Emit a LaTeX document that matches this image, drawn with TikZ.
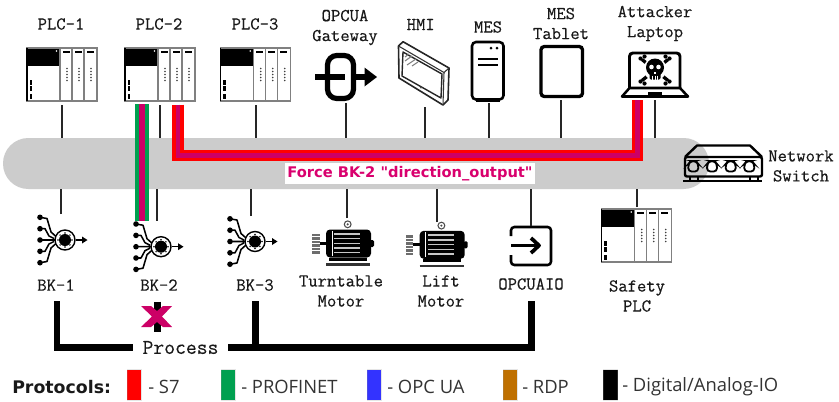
\documentclass[tikz,border=0pt]{standalone}
\usepackage{fontspec}
\newfontfamily\uifont{Open Sans}
\newfontfamily\headfont{DejaVu Sans}
\newfontfamily\courf[FakeBold=0.35]{Latin Modern Mono}
\definecolor{magentax}{HTML}{CC0066}
\definecolor{forcec}{HTML}{D9006E}
\definecolor{greenx}{HTML}{00A050}
\definecolor{bandc}{HTML}{CCCCCC}
\definecolor{redx}{HTML}{FF0000}
\definecolor{bluex}{HTML}{3333FF}
\definecolor{rdpx}{HTML}{BF7000}
\definecolor{legtext}{HTML}{333333}
\definecolor{greyx}{HTML}{808080}
\tikzset{
 lbl/.style={font=\courf\fontsize{13.6}{15}\selectfont,inner sep=0pt,align=center,text=black!90},
 leg/.style={font=\uifont\fontsize{13.8}{15}\selectfont,inner sep=0pt,anchor=west,text=legtext},
 link/.style={draw=black!85,line width=1.5pt},
 procline/.style={draw=black,line width=5.2pt},
 swatch/.style={inner sep=0pt,minimum width=10.6pt,minimum height=23pt,draw=white!60!black,draw opacity=.25,line width=.4pt},
 pics/plcicon/.style={code={
  \fill[white] (27,48) rectangle (97,101);
  \fill[black] (27,48) rectangle (60,66);
  \fill[white] (56.5,51) circle (.9);
  \draw[greyx,line width=.9pt] (27,48) rectangle (97,101);
  \draw[greyx,line width=.9pt] (60,48)--(60,101) (72,48)--(72,101) (84,48)--(84,101);
  \draw[black,line width=.9pt] (27,48)--(27,101);
  \foreach \x in {62.5,74.5,86.5}{
   \fill[black] (\x,50.5) rectangle +(7,2.7);
   \foreach \y in {68.5,71.5,74.5,77.5,80.5}{\fill[black!75] (\x+4.5,\y) circle (.9);}
  }
  \foreach \y in {80,86,94}{\fill[black] (29.5,\y) rectangle +(2.3,5);}
 }},
 pics/bkicon/.style={code={
  \foreach \y in {217.3,228.7,240,251.3,262.7}{\fill[black] (40,\y) circle (2.8);}
  \draw[black,line width=1.15pt,line join=round]
   (40,217.3)--(47,218.5)--(51,232)--(56,236.5)
   (40,228.7)--(45,228.7)--(49,236)--(54,238.5)
   (40,240)--(55,240)
   (40,251.3)--(45,251.3)--(49,244)--(54,241.5)
   (40,262.7)--(47,261.5)--(51,248)--(56,243.5);
  \draw[black,line width=1.05pt] (65,240) circle (10);
  \fill[black] (65,240) circle (6);
  \foreach \a in {0,45,...,315}{\fill[black] (65,240)++(\a:7) circle (.8);}
  \draw[black,line width=1.1pt] (76,240)--(83,240);
  \fill[black] (87.5,240)--(82,236.5)--(82,243.5)--cycle;
 }},
 pics/motoricon/.style={code={
  \draw[greyx!60!black,line width=.8pt] (347.7,224.3) circle (3.4);
  \fill[greyx!60!black] (347.7,224.3) circle (1.2);
  \fill[greyx!85!black] (312.3,233.5) rectangle (319.5,253.5);
  \foreach \y in {236.5,240,243.5,247,250.5}{\draw[white,line width=.4pt] (312.3,\y)--(319.5,\y);}
  \fill[black] (319.5,241.5) rectangle (326,245);
  \fill[black,rounded corners=3pt] (326,229.5) rectangle (371,257.5);
  \fill[black,rounded corners=1pt] (370,240) rectangle (374,247);
  \fill[white] (331.5,231) rectangle (332.3,256);
  \foreach \y in {231.5,236.2,240.9,245.6,250.3}{\fill[white!78!black] (334,\y+1.6) rectangle (360,\y+3.1);}
  \fill[black] (329,258) rectangle (367,261);
  \draw[black!80,line width=1.6pt] (326,264.5)--(370,264.5);
 }},
}
\begin{document}
\begin{tikzpicture}[x=.75pt,y=-.75pt]
\useasboundingbox (0,0) rectangle (839,401);
\fill[white] (0,0) rectangle (839,401);
% bus
\node[name=bus,fill=bandc,rounded corners=19pt,inner sep=0pt,minimum width=529.5pt,minimum height=38.25pt] at (356,163.5) {};
% PLCs
\pic at (0,0) {plcicon};
\pic at (98,0) {plcicon};
\pic at (193.7,0) {plcicon};
\pic at (574.7,161) {plcicon};
% OPCUA gateway
\draw[black,line width=3.9pt,rounded corners=7pt] (327.5,55.5) rectangle (353.5,98.5);
\draw[black,line width=5pt] (315,77)--(345,77) (356,77)--(366,77);
\fill[black] (377,77)--(364.5,67.5)--(364.5,86.5)--cycle;
% HMI
\begin{scope}[line join=round,black]
\draw[black!85,line width=1.2pt] (403,41.7)--(449,68)--(448,100)--(443,105)--(399,78)--(398.5,46)--cycle;
\draw[black!80,line width=.8pt] (398.5,46)--(444,72.5)--(443,105) (444,72.5)--(449,68);
\draw[black!85,line width=1.05pt] (403,52)--(442,74)--(441,98)--(402,76)--cycle;
\draw[greyx,line width=.8pt] (405,57)--(409,54) (405,61)--(412,56) (407,65)--(416,59) (412,66)--(418,62);
\fill[black!70] (421,87.5) circle (1.2);
\end{scope}
% MES
\draw[black,line width=1.9pt,rounded corners=3pt] (472,42)rectangle(503.5,99.5);
\fill[black] (491,48.2) circle (1.5) (497,48.2) circle (1.5);
\draw[black,line width=1.4pt] (478,58.7)--(498,58.7) (478,65)--(498,65);
\draw[black,line width=1.6pt] (476,100.5)--(500,100.5);
% MES tablet
\draw[black,line width=2.5pt,rounded corners=2.5pt] (541,46.5) rectangle (582.5,96.5);
% Laptop
\draw[black,line width=2.2pt,rounded corners=2.5pt] (629.5,88) -- (629.5,53) -- (680,53) -- (680,88);
\draw[black,line width=1.9pt,line join=round] (629.5,88)--(622,96.5)--(688,96.5)--(680,88)--cycle;
\fill[black] (648,92) rectangle (662,97);
\begin{scope}[black]
\draw[line width=2.5pt] (642,59.5)--(668,80.5) (668,59.5)--(642,80.5);
\foreach \p in {(640.5,58.5),(644.5,56.5),(669.5,58.5),(665.5,56.5),(640.5,81.5),(644.5,83.5),(669.5,81.5),(665.5,83.5)}{\fill \p circle (2.1);}
\fill[white] (655,69) circle (11.5);
\fill (655,67.5) circle (9);
\fill[rounded corners=1pt] (649.5,71) rectangle (660.5,79.5);
\fill[white] (651.5,67) circle (2.3) (658.5,67) circle (2.3);
\fill[white] (654.2,71.5) rectangle (655.8,74);
\draw[white,line width=.45pt] (652.5,75.5)--(652.5,79.5) (655,75.5)--(655,79.5) (657.5,75.5)--(657.5,79.5);
\end{scope}
% Switch
\begin{scope}[black]
\draw[line width=1.8pt,line join=round] (685,157)--(697,145.5)--(750,145.5)--(762,157);
\draw[line width=1.8pt,rounded corners=1.5pt] (685,157) rectangle (762,176.5);
\foreach \x in {693.3,712,730.7,749.3}{
 \draw[line width=1.35pt,rounded corners=2.5pt] (\x-5,171.5)--(\x-5,164)--(\x-2.5,161)--(\x+2.5,161)--(\x+5,164)--(\x+5,171.5)--cycle;}
\draw[line width=1.8pt] (683,180.7)--(762,180.7);
\draw[line width=1.3pt] (690,177)--(690,180) (698,177)--(698,180) (750,177)--(750,180) (758,177)--(758,180);
\end{scope}
% BK
\pic at (0,0) {bkicon};
\pic at (96,6.7) {bkicon};
\pic at (190,1.5) {bkicon};
% motors
\pic at (0,0) {motoricon};
\pic at (93.7,1.3) {motoricon};
% OPCUAIO
\draw[black,line width=1.9pt,rounded corners=2.5pt] (511,236)--(511,227)--(551,227)--(551,265)--(511,265)--(511,255);
\draw[black,line width=2.8pt] (511,245.5)--(538,245.5);
\draw[black,line width=2.8pt,line join=round] (531,238)--(539,245.5)--(531,253);
% coordinates of connector ends
\coordinate (plcAb) at (61.5,105);
\coordinate (plcBb) at (159.5,105);
\coordinate (plcCb) at (255.5,105);
\coordinate (gateb) at (346,103);
\coordinate (hmib) at (424.7,107);
\coordinate (mesb) at (488.7,103);
\coordinate (tabb) at (561.3,100);
\coordinate (lapb) at (655,100);
\coordinate (bkAt) at (61,214);
\coordinate (bkBt) at (157,220.5);
\coordinate (bkCt) at (251,216);
\coordinate (turnt) at (346.7,218);
\coordinate (liftt) at (437.3,222);
\coordinate (iot) at (531,226);
\coordinate (safet) at (636.7,207);
\foreach \c in {plcAb,plcBb,plcCb,gateb,hmib,mesb,tabb,lapb}{\draw[link] (\c)--(\c |- bus.north);}
\foreach \c in {bkAt,bkBt,bkCt,turnt,liftt,iot,safet}{\draw[link] (\c)--(\c |- bus.south);}
% protocol lines
\coordinate (plcBp) at (142,104);
\coordinate (bkBp) at (142,220.7);
\draw[greenx,line width=10.5pt] (plcBp)--(bkBp);
\draw[magentax,line width=5pt] (plcBp)--(bkBp);
\coordinate (plcBs) at (178,104.5);
\coordinate (lapS) at (637.5,100);
\coordinate (elb) at (178,155.5);
\coordinate (era) at (637.5,155.5);
\draw[redx,line width=8.6pt,miter limit=10] (plcBs)--(elb)--(era)--(lapS);
\draw[magentax,line width=3.4pt,miter limit=10] (plcBs)--(elb)--(era)--(lapS);
% force label
\node[name=force,fill=white,inner sep=0pt,minimum width=187.5pt,minimum height=16pt,text=forcec,font=\headfont\bfseries\fontsize{11}{12}\selectfont] at (410,173.5) {Force BK-2 "direction\_output"};
% labels
\node[lbl] at (61,24) {PLC-1};
\node[lbl] at (159,24) {PLC-2};
\node[lbl] at (255,24) {PLC-3};
\node[lbl] at (345,27.5) {OPCUA\\Gateway};
\node[lbl] at (420.7,24.5) {HMI};
\node[lbl] at (488,27) {MES};
\node[lbl] at (561,23.5) {MES\\Tablet};
\node[lbl] at (655,23.5) {Attacker\\Laptop};
\node[lbl] at (801,166) {Network\\Switch};
\node[lbl] at (56,285) {BK-1};
\node[lbl] at (159,285) {BK-2};
\node[lbl] at (255,285) {BK-3};
\node[lbl] at (341,291) {Turntable\\Motor};
\node[lbl] at (441,291) {Lift\\Motor};
\node[lbl] at (531,284) {OPCUAIO};
\node[lbl] at (637,296) {Safety\\PLC};
% process
\node[lbl,name=process,minimum width=71.25pt,minimum height=12pt,font=\courf\fontsize{15.8}{17}\selectfont] at (180.5,347.5) {Process};
\coordinate (bkAp) at (57,301);
\coordinate (bkBq) at (157.3,301.5);
\coordinate (bkCp) at (255.5,301);
\coordinate (iop) at (531.3,301);
\coordinate (bkBx) at (157.3,331.5);
\draw[procline,miter limit=10] (bkAp)--(bkAp |- process.west)--(process.west);
\draw[procline,miter limit=10] (process.east)--(iop |- process.east)--(iop);
\draw[procline] (bkCp)--(bkCp |- process.east);
\draw[procline] (bkBq)--(bkBx);
\fill[magentax] (141,306)--(151,306)--(157,311)--(163,306)--(172,306)--(162,316.5)--(172,327)--(163,327)--(157,322)--(151,327)--(141,327)--(152,316.5)--cycle;
% legend
\node[name=leghead,inner sep=0pt,anchor=west,font=\headfont\bfseries\fontsize{13}{14}\selectfont,text=black!90] at (12,386.7) {Protocols:};
\node[swatch,fill=redx,name=swA] at (134,385) {};
\node[swatch,fill=greenx,name=swB] at (228.3,385) {};
\node[swatch,fill=bluex,name=swC] at (374.2,385) {};
\node[swatch,fill=rdpx,name=swD] at (510,385) {};
\node[swatch,fill=black,name=swE] at (610.5,385) {};
\node[leg] at (148,386.7) {- S7};
\node[leg] at (241,386.7) {- PROFINET};
\node[leg] at (387,386.7) {- OPC UA};
\node[leg] at (522,386.7) {- RDP};
\node[leg] at (622,386.7) {- Digital/Analog-IO};
\end{tikzpicture}
\end{document}
